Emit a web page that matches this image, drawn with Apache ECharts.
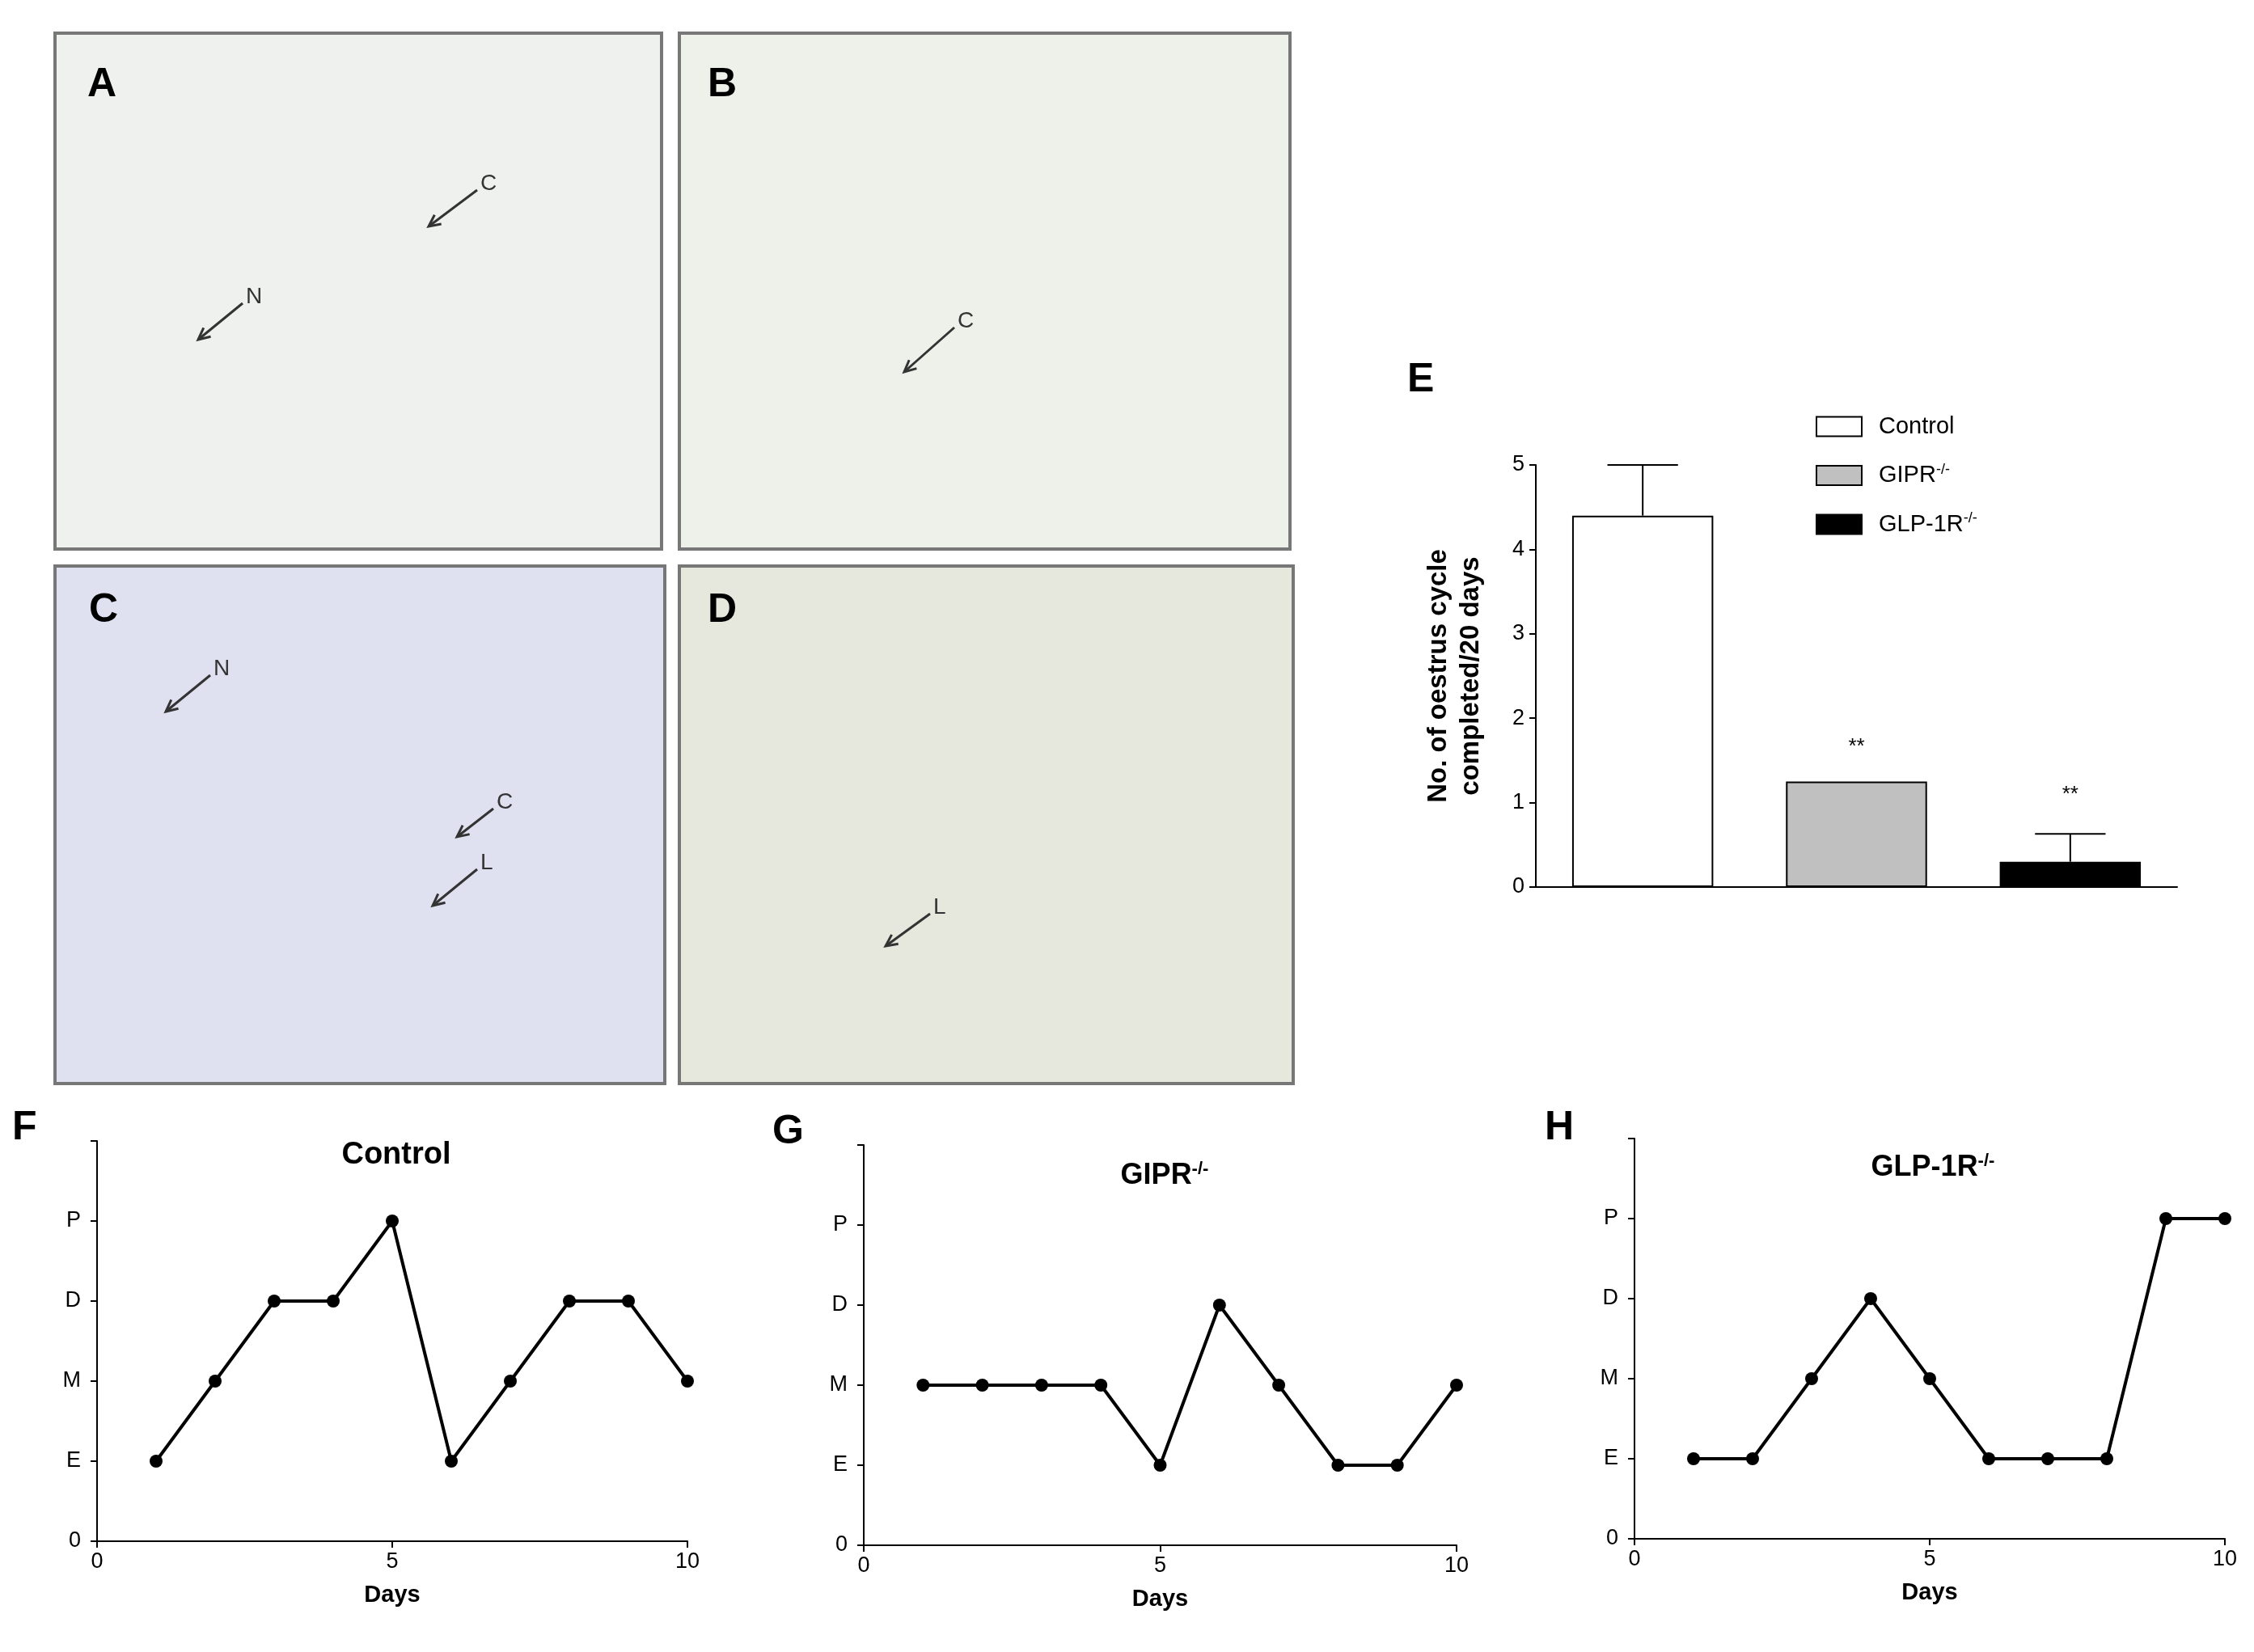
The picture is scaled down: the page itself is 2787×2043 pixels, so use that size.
<!DOCTYPE html>
<html><head><meta charset="utf-8">
<script src="https://cdn.jsdelivr.net/npm/echarts@6/dist/echarts.min.js"></script>
<style>html,body{margin:0;padding:0;background:#fff}#c{width:2787px;height:2043px}</style>
</head><body><div id="c"></div>
<script>
const groups = ['Control', 'GIPR', 'GLP-1R'];
const cycleMeans = [4.4, 1.25, 0.3];
const cycleErr = [0.6, 0, 0.33];
const sigMarks = ['', '**', '**'];
const days = [1,2,3,4,5,6,7,8,9,10];
const stageLabels = ['0','E','M','D','P'];
const controlStages = [1,2,3,3,4,1,2,3,3,2];
const giprStages = [2,2,2,2,1,3,2,1,1,2];
const glpStages = [1,1,2,3,2,1,1,1,4,4];

const chart = echarts.init(document.getElementById('c'));
const F = 'Arial, Liberation Sans, sans-serif';
const sup = {a:{fontSize:36,fontWeight:'bold',fontFamily:F,color:'#000'},s:{fontSize:22,fontWeight:'bold',fontFamily:F,color:'#000',padding:[0,0,16,0]}};

function lineGrid(i, left, top, right, bottom){
  return {left:left, top:top, width:right-left, height:bottom-top};
}
const grids = [
  {left:1899, top:575, width:793, height:522},
  lineGrid(1,120,1411,850,1906),
  lineGrid(2,1068,1416,1801,1911),
  lineGrid(3,2021,1408,2751,1903)
];
const xAxes = [
  {gridIndex:0,type:'category',data:groups,axisTick:{show:false},axisLabel:{show:false},axisLine:{lineStyle:{color:'#000',width:2}}}
];
const yAxes = [
  {gridIndex:0,type:'value',min:0,max:5,interval:1,splitLine:{show:false},axisLine:{show:true,lineStyle:{color:'#000',width:2}},axisTick:{show:true,length:8,lineStyle:{color:'#000',width:2}},axisLabel:{fontSize:27,fontFamily:F,color:'#000',margin:14},
   name:'No. of oestrus cycle\ncompleted/20 days',nameLocation:'middle',nameGap:60,nameTextStyle:{fontSize:33,fontWeight:'bold',fontFamily:F,color:'#000',lineHeight:40}}
];
const starDist = [0, 30, 70];
const series = [];
groups.forEach((g,i)=>{
  const d = groups.map((_,j)=> j===i ? cycleMeans[i] : '-');
  series.push({type:'bar',name:g,xAxisIndex:0,yAxisIndex:0,data:d,barWidth:'66%',barGap:'-100%',
    itemStyle:{color:['#ffffff','#c0c0c0','#000000'][i],borderColor:'#000',borderWidth:2},
    label:{show:!!sigMarks[i],position:'top',distance:starDist[i],formatter:sigMarks[i],fontSize:26,fontFamily:F,color:'#000'}});
});
series.push({type:'custom',xAxisIndex:0,yAxisIndex:0,data:groups.map((g,i)=>[i,cycleMeans[i],cycleErr[i]]),z:5,
  renderItem:(p,api)=>{
    if(api.value(2)<=0) return;
    const b=api.coord([api.value(0),api.value(1)]);
    const t=api.coord([api.value(0),api.value(1)+api.value(2)]);
    const w=api.size([1,0])[0]*0.33;
    return {type:'group',children:[
      {type:'line',shape:{x1:b[0],y1:b[1],x2:t[0],y2:t[1]},style:{stroke:'#000',lineWidth:2}},
      {type:'line',shape:{x1:t[0]-w/2,y1:t[1],x2:t[0]+w/2,y2:t[1]},style:{stroke:'#000',lineWidth:2}}]};
  }});
const lineData=[controlStages,giprStages,glpStages];
for(let k=1;k<=3;k++){
  xAxes.push({gridIndex:k,type:'value',min:0,max:10,interval:5,splitLine:{show:false},axisLine:{lineStyle:{color:'#000',width:2}},axisTick:{length:8,lineStyle:{color:'#000',width:2}},axisLabel:{fontSize:27,fontFamily:F,color:'#000',margin:12},
    name:'Days',nameLocation:'middle',nameGap:52,nameTextStyle:{fontSize:29,fontWeight:'bold',fontFamily:F,color:'#000'}});
  yAxes.push({gridIndex:k,type:'value',min:0,max:5,interval:1,splitLine:{show:false},axisLine:{show:true,lineStyle:{color:'#000',width:2}},axisTick:{show:true,length:8,lineStyle:{color:'#000',width:2}},
    axisLabel:{fontSize:27,fontFamily:F,color:'#000',margin:20,formatter:v=>v<5?stageLabels[v]:''}});
  series.push({type:'line',xAxisIndex:k,yAxisIndex:k,data:days.map((d,i)=>[d,lineData[k-1][i]]),symbol:'circle',symbolSize:16,
    lineStyle:{color:'#000',width:4},itemStyle:{color:'#000'}});
}
const titleComps=[
  {text:'Control',left:485,top:1405,textAlign:'center',textStyle:{fontSize:38,fontWeight:'bold',fontFamily:F,color:'#000'}},
  {text:'{a|GIPR}{s|-/-}',left:1435,top:1430,textAlign:'center',textStyle:{rich:sup}},
  {text:'{a|GLP-1R}{s|-/-}',left:2385,top:1420,textAlign:'center',textStyle:{rich:sup}}
];
const letter=(t,x,y)=>({type:'text',left:x,top:y,style:{text:t,font:'bold 50px Arial, Liberation Sans',fill:'#000'}});
const panel=(x,y,w,h,fill)=>({type:'rect',shape:{x:x,y:y,width:w,height:h},style:{fill:fill,stroke:'#777',lineWidth:4}});
const arrow=(x1,y1,x2,y2,t)=>{
  const a=Math.atan2(y2-y1,x2-x1), L=16, s=0.45;
  return [
  {type:'line',shape:{x1:x1,y1:y1,x2:x2,y2:y2},style:{stroke:'#333',lineWidth:3}},
  {type:'polyline',shape:{points:[[x2-L*Math.cos(a-s),y2-L*Math.sin(a-s)],[x2,y2],[x2-L*Math.cos(a+s),y2-L*Math.sin(a+s)]]},style:{stroke:'#333',lineWidth:3,fill:null}},
  {type:'text',x:x1+4,y:y1-22,style:{text:t,font:'28px Arial',fill:'#333'}}];
};
const graphic=[
  panel(68,41,750,638,'#eef1ee'),panel(840,41,755,638,'#eef1ea'),
  panel(68,700,754,640,'#dfe0f0'),panel(840,700,759,640,'#e6e8de'),
  letter('A',108,80),letter('B',875,80),letter('C',110,730),letter('D',875,730),
  ...arrow(590,235,530,280,'C'),...arrow(300,375,245,420,'N'),
  ...arrow(1180,405,1118,460,'C'),...arrow(260,835,205,880,'N'),
  ...arrow(610,1000,565,1035,'C'),...arrow(590,1075,535,1120,'L'),...arrow(1150,1130,1095,1170,'L'),
  letter('E',1740,445),letter('F',15,1370),letter('G',955,1375),letter('H',1910,1370)
];
chart.setOption({
  animation:false,
  title:titleComps,
  grid:grids,xAxis:xAxes,yAxis:yAxes,series:series,graphic:graphic,
  legend:{data:groups,left:2240,top:508,orient:'vertical',itemGap:30,itemWidth:56,itemHeight:24,icon:'rect',
    textStyle:{fontSize:29,fontFamily:F,color:'#000',padding:[0,0,0,16],rich:{s:{fontSize:18,fontFamily:F,padding:[0,0,14,0]}}},
    formatter:n=>n==='Control'?n:n+'{s|-/-}'}
});
</script></body></html>
